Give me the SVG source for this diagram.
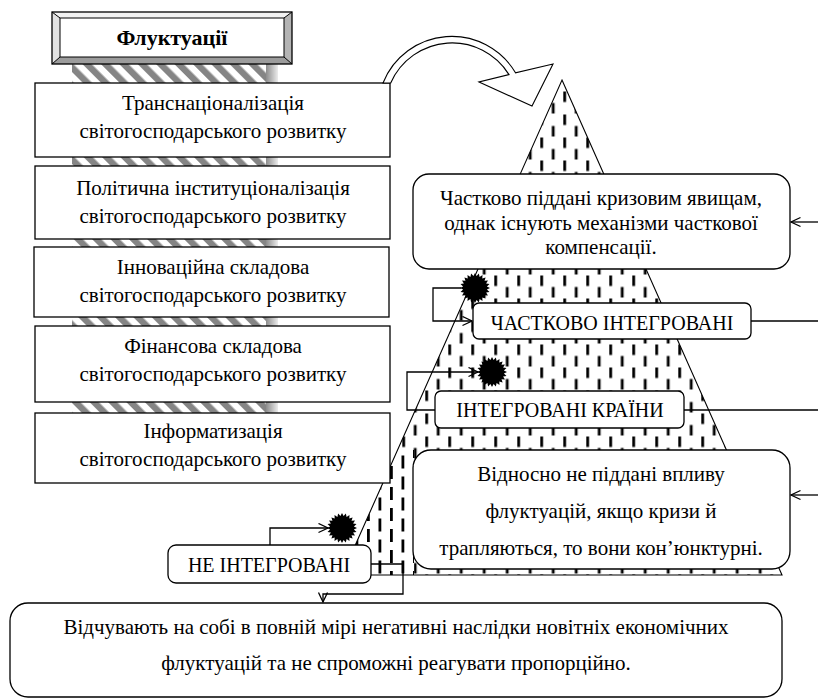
<svg xmlns="http://www.w3.org/2000/svg" width="818" height="699" viewBox="0 0 818 699">
<style>
.box{fill:#fff;stroke:#000;stroke-width:1.3}
.t{font-family:"Liberation Serif","Times New Roman",serif;font-size:21px;text-anchor:middle;fill:#000}
.u{font-size:20px}
.c{fill:none;stroke:#000;stroke-width:1.3}
.burst{fill:#000}
</style>
<defs>
<pattern id="hatch" patternUnits="userSpaceOnUse" width="13" height="13" patternTransform="rotate(-45)"><rect width="13" height="13" fill="#fff"/><rect width="6.5" height="13" fill="#858585"/></pattern>
<linearGradient id="band" x1="0" x2="1" y1="0" y2="0"><stop offset="0" stop-color="#8c8c8c"/><stop offset="1" stop-color="#ececec"/></linearGradient>
<pattern id="dash" patternUnits="userSpaceOnUse" x="540.3" y="344.5" width="23" height="23"><rect x="0" y="0" width="2.8" height="10.5" fill="#000"/><rect x="11.5" y="11.5" width="2.8" height="10.5" fill="#000"/></pattern>
<pattern id="longdash" patternUnits="userSpaceOnUse" x="390" y="445" width="23" height="21"><rect x="0" y="0" width="2.8" height="13" fill="#000"/><rect x="11.5" y="10.5" width="2.8" height="10.5" fill="#000"/><rect x="11.5" y="0" width="2.8" height="2.5" fill="#000"/></pattern>
<marker id="arr" markerUnits="userSpaceOnUse" markerWidth="12" markerHeight="12" viewBox="0 0 12 12" refX="10.5" refY="5.5" orient="auto"><path d="M1,1 L10.5,5.5 L1,10" fill="none" stroke="#000" stroke-width="1.3"/></marker>
<polygon id="star" points="15,0 11.9,1.57 14.49,3.88 11.09,4.59 12.99,7.5 9.52,7.31 10.61,10.61 7.31,9.52 7.5,12.99 4.59,11.09 3.88,14.49 1.57,11.9 0,15 -1.57,11.9 -3.88,14.49 -4.59,11.09 -7.5,12.99 -7.31,9.52 -10.61,10.61 -9.52,7.31 -12.99,7.5 -11.09,4.59 -14.49,3.88 -11.9,1.57 -15,0 -11.9,-1.57 -14.49,-3.88 -11.09,-4.59 -12.99,-7.5 -9.52,-7.31 -10.61,-10.61 -7.31,-9.52 -7.5,-12.99 -4.59,-11.09 -3.88,-14.49 -1.57,-11.9 0,-15 1.57,-11.9 3.88,-14.49 4.59,-11.09 7.5,-12.99 7.31,-9.52 10.61,-10.61 9.52,-7.31 12.99,-7.5 11.09,-4.59 14.49,-3.88 11.9,-1.57"/>
</defs>

<g id="column-shadow">
<rect x="72" y="64" width="206" height="349" fill="url(#hatch)"/>
<rect x="266" y="64" width="12" height="349" fill="url(#band)"/>
</g>

<g id="pyramid">
<polygon points="562,80 782,575 342,575" fill="#fff"/>
<polygon points="562,80 782,575 342,575" fill="url(#dash)"/>
<polygon points="397.7,450 414,450 414,575 342,575" fill="#fff"/>
<polygon points="397.7,450 414,450 414,575 342,575" fill="url(#longdash)"/>
<polygon points="562,80 782,575 342,575" fill="none" stroke="#000" stroke-width="1.1"/>
</g>

<g id="node-transnational">
<rect class="box" x="35" y="83" width="355" height="74"/>
<text class="t" x="213" y="110">Транснаціоналізація</text>
<text class="t" x="213" y="138">світогосподарського розвитку</text>
</g>
<g id="node-political">
<rect class="box" x="35" y="166" width="355" height="73"/>
<text class="t" x="213" y="195">Політична інституціоналізація</text>
<text class="t" x="213" y="223">світогосподарського розвитку</text>
</g>
<g id="node-innovation">
<rect class="box" x="34" y="247" width="355" height="70"/>
<text class="t" x="213" y="274">Інноваційна складова</text>
<text class="t" x="213" y="302">світогосподарського розвитку</text>
</g>
<g id="node-finance">
<rect class="box" x="35" y="326" width="355" height="76"/>
<text class="t" x="213" y="353">Фінансова складова</text>
<text class="t" x="213" y="381">світогосподарського розвитку</text>
</g>
<g id="node-informatization">
<rect class="box" x="35" y="413" width="355" height="70"/>
<text class="t" x="213" y="438">Інформатизація</text>
<text class="t" x="213" y="466">світогосподарського розвитку</text>
</g>

<g id="node-fluctuations">
<polygon points="52,12 292,12 284,18 60,18" fill="#f2f2f2"/>
<polygon points="52,12 60,18 60,57 52,64" fill="#e2e2e2"/>
<polygon points="292,12 292,64 284,57 284,18" fill="#b4b4b4"/>
<polygon points="52,64 292,64 284,57 60,57" fill="#9c9c9c"/>
<rect x="60" y="18" width="224" height="39" fill="#fff" stroke="#000" stroke-width="1"/>
<rect x="52" y="12" width="240" height="52" fill="none" stroke="#000" stroke-width="1.3"/>
<path d="M52,12 L60,18 M292,12 L284,18 M52,64 L60,57 M292,64 L284,57" stroke="#000" stroke-width="1"/>
<text class="t" x="172" y="45" font-weight="bold" style="font-size:22px">Флуктуації</text>
</g>

<g id="curved-arrow">
<path d="M479,82 L532,106 L553,64 L515.5,72.8 A74,74 0 0 0 383,83 L390.7,83 A67,67 0 0 1 509,74.6 Z" fill="#fff" stroke="#000" stroke-width="1.1"/>
</g>

<g id="node-partial-crisis">
<rect class="box" x="413" y="174" width="377" height="95" rx="16"/>
<text class="t" x="601" y="205">Частково піддані кризовим явищам,</text>
<text class="t" x="601" y="230">однак існують механізми часткової</text>
<text class="t" x="601" y="254">компенсації.</text>
</g>
<g id="node-partially-integrated">
<rect class="box" x="473" y="303" width="278" height="36" rx="6"/>
<text class="t u" x="612" y="330">ЧАСТКОВО ІНТЕГРОВАНІ</text>
</g>
<g id="node-integrated">
<rect class="box" x="435" y="391" width="249" height="37" rx="6"/>
<text class="t u" x="560" y="417">ІНТЕГРОВАНІ КРАЇНИ</text>
</g>
<g id="node-relatively">
<rect class="box" x="413" y="450" width="377" height="119" rx="18"/>
<text class="t" x="601" y="481">Відносно не піддані впливу</text>
<text class="t" x="601" y="518">флуктуацій, якщо кризи й</text>
<text class="t" x="601" y="555">трапляються, то вони кон’юнктурні.</text>
</g>
<g id="node-not-integrated">
<rect class="box" x="168" y="545" width="203" height="38" rx="8"/>
<text class="t u" x="269" y="572">НЕ ІНТЕГРОВАНІ</text>
</g>
<g id="node-feel">
<rect class="box" x="10" y="603" width="772" height="94" rx="18"/>
<text class="t" x="396" y="634">Відчувають на собі в повній мірі негативні наслідки новітніх економічних</text>
<text class="t" x="396" y="670">флуктуацій та не спроможні реагувати пропорційно.</text>
</g>

<g id="connectors">
<path class="c" d="M818,222 L791,222" marker-end="url(#arr)"/>
<path class="c" d="M751,321 L818,321"/>
<path class="c" d="M684,410 L818,410"/>
<path class="c" d="M818,495 L791,495" marker-end="url(#arr)"/>
<path class="c" d="M461,288 L433,288 L433,321 L472,321" marker-end="url(#arr)"/>
<path class="c" d="M435,410 L407,410 L407,372 L478,372" marker-end="url(#arr)"/>
<path class="c" d="M270,545 L270,528 L328,528" marker-end="url(#arr)"/>
<path class="c" d="M371,564 L403,564 L403,594 L323,594 L323,602" marker-end="url(#arr)"/>
</g>

<g id="burst-1"><use href="#star" class="burst" transform="translate(475,288)"/></g>
<g id="burst-2"><use href="#star" class="burst" transform="translate(492,372)"/></g>
<g id="burst-3"><use href="#star" class="burst" transform="translate(342,528)"/></g>
</svg>
